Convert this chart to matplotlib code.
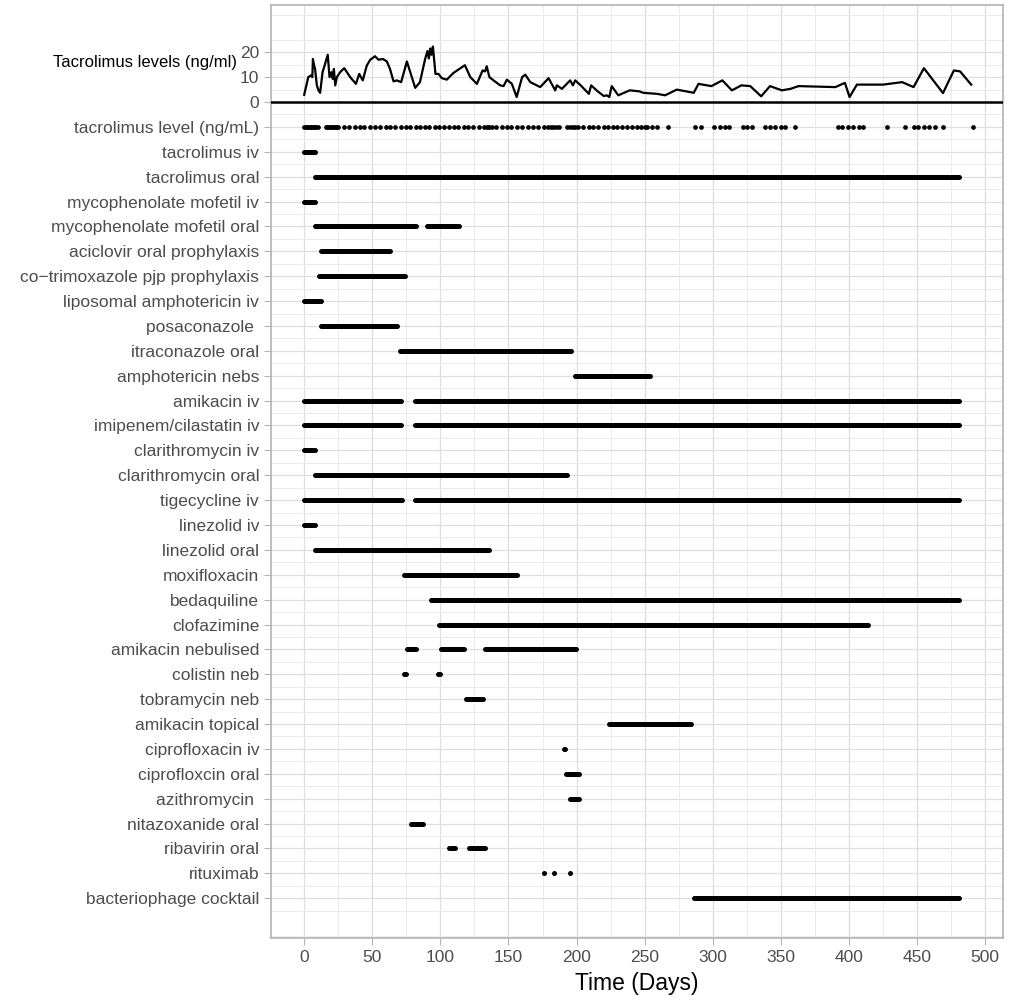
import matplotlib.pyplot as plt
import numpy as np

plt.rcParams['font.family'] = ['Liberation Sans', 'DejaVu Sans']

# tacrolimus blood levels (curve at the top)
tac_days = [0, 3, 5, 6, 6.4, 7.3, 8, 9.3, 10.5, 11.7, 13.5, 15, 17.3, 18.6, 20, 21, 21.8, 22.8,
            24, 26.4, 29.4, 33.8, 38, 40.4, 43, 46, 48.5, 52, 54.6, 57.8, 60.7, 63, 65.6, 68,
            71.2, 75.4, 78.3, 81.5, 85, 88.8, 90.5, 91.5, 92.5, 93.5, 94.5, 96.4, 98.6, 101,
            104.7, 109.6, 114.5, 118, 122, 126.8, 131, 132.8, 134, 136, 139, 143.9, 146.4,
            148.8, 152.5, 156, 160, 162.3, 166, 173.3, 179.4, 184.3, 185.5, 189.2, 195.3,
            197.3, 199, 203, 209, 210.7, 215.5, 220, 222.2, 224, 225.8, 230.6, 239, 246, 249,
            259, 265, 273.6, 286, 289.5, 299, 307, 314, 321, 327.5, 335.5, 342, 350.7, 357,
            363, 390, 397, 400.4, 405.8, 425, 439, 447.4, 455, 469, 477, 481.6, 489.7]
tac_values = [2.9, 10, 10.7, 10, 17.3, 14.7, 13.3, 6.7, 4.7, 3.7, 12, 14.7, 19, 10, 12, 9.3, 13.3, 6.7,
              10, 12, 13.6, 10, 7.3, 11.3, 8.7, 14.7, 17, 18.4, 17, 17.3, 16.3, 13.3, 8.3, 8.7,
              8, 16.3, 11.3, 5.7, 8, 17.3, 20.5, 17.5, 21.5, 19, 22.3, 11.3, 11.3, 9.6,
              9, 11.7, 13.5, 14.8, 10, 7.3, 12.7, 12.3, 14.4, 10, 8.7, 6.7, 6.4,
              9, 7.3, 2, 10, 11, 8, 6, 9.6, 4.7, 6.7, 5.3, 8.7,
              6.7, 8.7, 6.7, 3.3, 6.7, 4.3, 2.4, 2.7, 2, 6.4, 2.7, 4.7, 4.3, 3.7,
              3.3, 2.7, 5, 3.7, 7.3, 6.4, 8.7, 4.7, 6.7, 6.4, 2.3, 6.4, 4.7, 5.3,
              6.4, 6, 7.7, 2, 7, 7, 8, 6, 13.6, 3.6, 12.7, 12.3, 7]

# days with a tacrolimus level measured (dot row)
level_days = [0, 1, 2, 3, 4, 5, 6, 7, 8, 9, 10, 16, 17, 18, 19, 20, 21, 22, 23, 24, 25,
              29, 33, 37, 41, 44, 48, 52, 56, 60, 63, 67, 71, 75, 78, 82, 85, 89, 92, 96, 99,
              103, 106, 110, 113, 117, 120, 124, 128, 132, 134, 136, 138, 141, 145, 149, 152,
              156, 160, 164, 168, 172, 176, 179, 181, 183, 185, 187, 193, 195, 197, 199, 201,
              205, 209, 212, 216, 220, 223, 227, 230, 233, 237, 241, 244, 247, 250, 252, 255,
              259, 267, 287, 291, 301, 305, 309, 312, 322, 325, 329, 338, 342, 346, 350, 353,
              360, 392, 395, 399, 403, 407, 410, 428, 441, 448, 451, 455, 459, 463, 469, 491]

drug_names = ['tacrolimus iv', 'tacrolimus oral', 'mycophenolate mofetil iv',
              'mycophenolate mofetil oral', 'aciclovir oral prophylaxis',
              'co\u2212trimoxazole pjp prophylaxis', 'liposomal amphotericin iv', 'posaconazole ',
              'itraconazole oral', 'amphotericin nebs', 'amikacin iv', 'imipenem/cilastatin iv',
              'clarithromycin iv', 'clarithromycin oral', 'tigecycline iv', 'linezolid iv',
              'linezolid oral', 'moxifloxacin', 'bedaquiline', 'clofazimine', 'amikacin nebulised',
              'colistin neb', 'tobramycin neb', 'amikacin topical', 'ciprofloxacin iv',
              'ciprofloxcin oral', 'azithromycin ', 'nitazoxanide oral', 'ribavirin oral',
              'rituximab', 'bacteriophage cocktail']

# (start day, end day) for each treatment period
drug_periods = [
    [(0, 8)],
    [(8, 481)],
    [(0, 8)],
    [(8, 82), (90, 114)],
    [(12, 63)],
    [(11, 74)],
    [(0, 12)],
    [(12, 68)],
    [(70, 196)],
    [(199, 254)],
    [(0, 71), (81, 481)],
    [(0, 71), (81, 481)],
    [(0, 8)],
    [(8, 193)],
    [(0, 72), (81, 481)],
    [(0, 8)],
    [(8, 136)],
    [(73, 156)],
    [(93, 481)],
    [(99, 414)],
    [(75.5, 82), (100.5, 117), (133, 199.5)],
    [(73.5, 74.5), (98.5, 99.5)],
    [(119, 131)],
    [(223.5, 284)],
    [(190.5, 191.5)],
    [(192, 201.5)],
    [(195, 201.5)],
    [(78.5, 87.5)],
    [(106.5, 111), (121, 133)],
    [(176, 176), (183.5, 183.5), (195.5, 195.5)],
    [(286, 481)],
]

row_labels = ['tacrolimus level (ng/mL)'] + drug_names
row_pos = [-10 * (i + 1) for i in range(len(row_labels))]

fig = plt.figure(figsize=(10.11, 10), dpi=100)
ax = fig.add_axes([0.268, 0.062, 0.724, 0.933])

ax.plot(tac_days, tac_values, color='black', lw=1.6, zorder=3)
ax.axhline(0, color='black', lw=1.8, zorder=3)

ax.plot(level_days, [row_pos[0]] * len(level_days), 'o', color='black', ms=3.4, mew=0, zorder=3)

for y, periods in zip(row_pos[1:], drug_periods):
    for start, end in periods:
        if start == end:
            ax.plot(start, y, 'o', color='black', ms=3.6, mew=0, zorder=3)
        else:
            ax.plot([start, end], [y, y], color='black', lw=3.6, solid_capstyle='round', zorder=3)

ax.set_xlim(-24.4, 513)
ax.set_ylim(-336, 39)

ax.set_xticks(np.arange(0, 501, 50))
ax.set_xticks(np.arange(25, 500, 50), minor=True)
ax.set_yticks([20, 10, 0] + row_pos)
ax.set_yticklabels(['20', '10', '0'] + row_labels)
ax.set_yticks(np.arange(-335, 36, 10), minor=True)

ax.grid(which='major', color='#DEDEDE', lw=0.9, zorder=0)
ax.grid(which='minor', color='#E8E8E8', lw=0.6, zorder=0)
ax.set_axisbelow(True)
ax.tick_params(which='major', length=5, width=0.8, color='#B3B3B3', labelsize=12.5,
               labelcolor='#4D4D4D', pad=3.5)
ax.tick_params(which='minor', length=0)
for s in ax.spines.values():
    s.set_color('#B3B3B3')
    s.set_linewidth(1.2)

ax.set_xlabel('Time (Days)', fontsize=16.5, labelpad=5)
fig.text(237 / 1011, 1 - 63 / 1000, 'Tacrolimus levels (ng/ml)', ha='right', va='center',
         fontsize=12, color='black')

fig.savefig('out.png', dpi=100)
